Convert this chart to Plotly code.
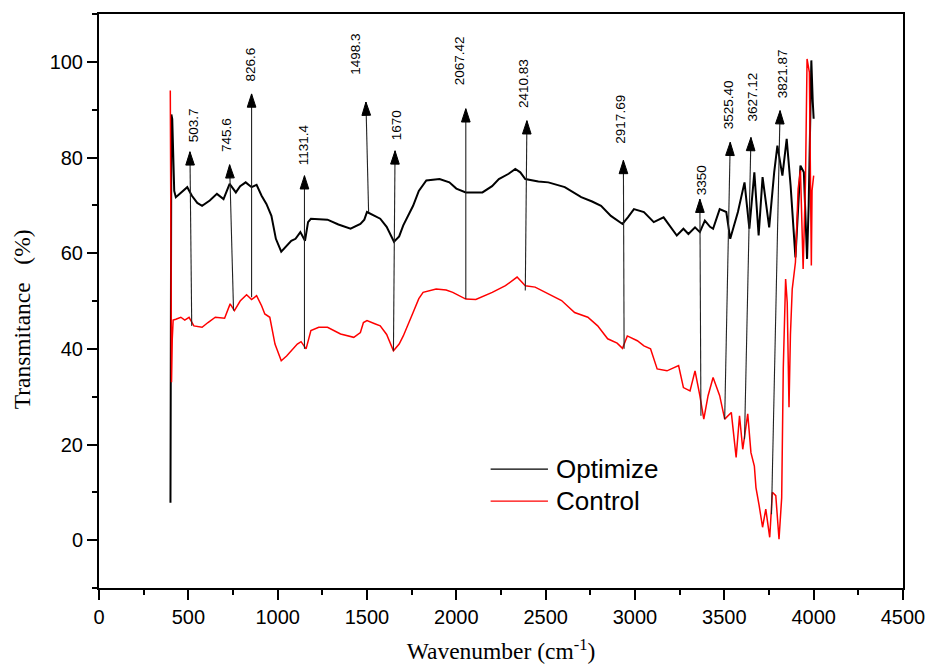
import plotly.graph_objects as go

# ---------------- data ----------------
opt_x = [400, 402, 405, 410, 415, 421, 430, 439, 460, 494, 520, 550, 577, 620, 660, 697, 731, 766, 790, 821,
         854, 882, 910, 937, 965, 990, 1020, 1050, 1076, 1100, 1127, 1153, 1170, 1186, 1230, 1279, 1340, 1408,
         1463, 1485, 1500, 1530, 1574, 1610, 1651, 1680, 1703, 1758, 1790, 1832, 1906, 1961, 2000, 2053, 2146,
         2200, 2238, 2293, 2330, 2358, 2386, 2459, 2515, 2607, 2699, 2760, 2810, 2865, 2930, 2960, 2994, 3050,
         3105, 3160, 3200, 3234, 3271, 3299, 3336, 3363, 3391, 3420, 3437, 3474, 3511, 3533, 3576, 3613, 3640,
         3668, 3692, 3714, 3751, 3779, 3797, 3825, 3849, 3871, 3898, 3913, 3926, 3945, 3963, 3972, 3987, 3995, 4000]
opt_y = [7.8, 60, 89, 88, 80, 73, 71.7, 72, 72.5, 73.8, 72, 70.5, 69.9, 71, 72.4, 71.3, 74.5, 72.7, 74, 74.8,
         73.8, 74.3, 72, 70.3, 67.8, 63, 60.3, 61.5, 62.6, 63, 64.4, 62.6, 66.5, 67.2, 67.1, 67.0, 66, 65.1,
         66.1, 67, 68.6, 68, 67.2, 65.5, 62.4, 63.5, 65.8, 69.9, 73, 75.2, 75.5, 74.8, 73.5, 72.7, 72.7,
         74, 75.5, 76.6, 77.6, 76.9, 75.5, 75.0, 74.8, 73.8, 71.7, 70.8, 69.9, 67.8, 66.1, 67.5, 69.2, 68.6,
         66.5, 67.5, 65.5, 63.7, 65.1, 64.0, 65.4, 64.4, 66.8, 65.5, 65.1, 69.2, 68.6, 63.0, 68.6, 74.8, 65.1,
         76.9, 63.7, 75.9, 65.4, 76.9, 82.5, 76.2, 83.9, 74.1, 59.1, 70, 78.3, 76.9, 58.8, 69.9, 100.3, 91.6, 88.1]

ctl_x = [399, 401, 403, 406, 410, 415, 430, 458, 480, 504, 531, 577, 610, 651, 703, 734, 758, 790, 826, 854,
         882, 910, 928, 956, 985, 1020, 1050, 1076, 1110, 1131, 1159, 1186, 1230, 1279, 1352, 1426, 1463, 1480,
         1500, 1540, 1574, 1610, 1648, 1680, 1703, 1758, 1790, 1814, 1887, 1943, 1980, 2053, 2109, 2201, 2275,
         2340, 2386, 2441, 2515, 2589, 2662, 2736, 2791, 2847, 2900, 2930, 2957, 3013, 3050, 3087, 3124, 3179,
         3244, 3271, 3308, 3336, 3363, 3385, 3409, 3437, 3474, 3502, 3539, 3557, 3566, 3585, 3603, 3631, 3649,
         3668, 3677, 3695, 3714, 3732, 3754, 3769, 3788, 3806, 3821, 3830, 3843, 3852, 3862, 3870, 3880, 3898,
         3913, 3926, 3941, 3954, 3963, 3976, 3987, 3991, 4000]
ctl_y = [94, 60, 34, 33, 42, 46, 46.2, 46.6, 46, 46.6, 44.8, 44.5, 45.5, 46.6, 46.4, 49.4, 48.0, 50, 51.3, 50.3,
         51.1, 49, 47.3, 46.6, 41, 37.5, 38.5, 39.6, 41, 41.5, 40.0, 43.8, 44.5, 44.5, 43.1, 42.4, 43.4, 45.5,
         45.9, 45.3, 44.8, 43, 39.6, 41, 42.7, 47.6, 50.5, 51.8, 52.5, 52.3, 51.8, 50.4, 50.3, 51.8, 53.2,
         55.0, 53.2, 52.9, 51.5, 50.1, 47.6, 46.6, 44.8, 42.1, 41.2, 40.1, 42.7, 41.7, 40.6, 40.0, 35.8, 35.4,
         36.5, 31.9, 31.2, 35.4, 30.2, 25.3, 30.2, 34.0, 30.2, 25.3, 26.7, 20.4, 17.3, 26.0, 19.0, 26.4, 18.3,
         15.5, 11.0, 7.2, 2.7, 6.5, 0.6, 10.0, 9.3, 0.2, 8.9, 36.1, 54.6, 49.7, 27.8, 43, 52.5, 58.1,
         73.4, 77.3, 56.7, 74.8, 100.6, 97.8, 57.4, 73.1, 76.2]

assert len(opt_x) == len(opt_y) and len(ctl_x) == len(ctl_y)

series_names = ["Optimize", "Control"]
series_colors = ["black", "#ff0000"]

# peak labels and arrows: label, head (x, y), tail (x, y), label centre (x, y)
peak_labels = ["503.7", "745.6", "826.6", "1131.4", "1498.3", "1670", "2067.42", "2410.83",
               "2917.69", "3350", "3525.40", "3627.12", "3821.87"]
head_x = [509, 731, 854, 1150, 1494, 1657, 2053, 2395, 2935, 3363, 3533, 3649, 3812]
head_y = [81.2, 78.5, 93.3, 76.2, 91.6, 81.4, 90.2, 87.7, 79.4, 71.3, 83.2, 84.2, 89.8]
tail_x = [519, 753, 854, 1150, 1509, 1648, 2053, 2386, 2939, 3369, 3502, 3613, 3764]
tail_y = [44.8, 48.0, 50.8, 40.0, 68.6, 39.6, 50.4, 52.2, 40.0, 26.0, 25.3, 21.1, 5.4]
label_x = [531, 714, 847, 1146, 1439, 1670, 2015, 2380, 2921, 3376, 3520, 3659, 3825]
label_y = [86.7, 84.6, 99.5, 82.7, 101.5, 86.8, 100.1, 95.4, 88.1, 75.3, 91.1, 92.7, 97.5]

x_ticks = [0, 500, 1000, 1500, 2000, 2500, 3000, 3500, 4000, 4500]
y_ticks = [0, 20, 40, 60, 80, 100]

# ---------------- figure ----------------
fig = go.Figure()
fig.add_trace(go.Scatter(x=opt_x, y=opt_y, mode="lines", name=series_names[0], showlegend=False,
                         line=dict(color=series_colors[0], width=2)))
fig.add_trace(go.Scatter(x=ctl_x, y=ctl_y, mode="lines", name=series_names[1], showlegend=False,
                         line=dict(color=series_colors[1], width=1.5)))

label_font = dict(family="Liberation Sans, Arial, sans-serif", size=13.5, color="black")
for i, lab in enumerate(peak_labels):
    # arrow shaft
    fig.add_trace(go.Scatter(x=[tail_x[i], head_x[i]], y=[tail_y[i], head_y[i]],
                             mode="lines", showlegend=False, hoverinfo="skip",
                             line=dict(color="#222222", width=1.1)))
    # arrow head (marker oriented along the shaft)
    fig.add_trace(go.Scatter(x=[tail_x[i], head_x[i]], y=[tail_y[i], head_y[i]],
                             mode="markers", showlegend=False, hoverinfo="skip", opacity=1,
                             marker=dict(symbol="arrow", size=[0, 14], angleref="previous",
                                         color="#000000", opacity=1,
                                         line=dict(width=1, color="#000000"))))
    fig.add_annotation(x=label_x[i], y=label_y[i], xref="x", yref="y",
                       text=lab, showarrow=False, textangle=-90, font=label_font)

axis_font = dict(family="Liberation Sans, Arial, sans-serif", size=20, color="black")
title_font = dict(family="Liberation Serif, Times New Roman, serif", size=23.5, color="black")
legend_font = dict(family="Liberation Sans, Arial, sans-serif", size=26, color="black")

fig.update_xaxes(range=[0, 4500], tickvals=x_ticks, ticks="outside", ticklen=10, tickwidth=2,
                 tickcolor="black", showline=True, linewidth=2, linecolor="black", mirror=True,
                 showgrid=False, zeroline=False, tickfont=axis_font,
                 minor=dict(dtick=250, ticks="outside", ticklen=5, tickwidth=2, tickcolor="black", showgrid=False),
                 title=dict(text="Wavenumber (cm<sup>-1</sup>)", font=title_font, standoff=16))
fig.update_yaxes(range=[-10, 110], tickvals=y_ticks, ticks="outside", ticklen=10, tickwidth=2,
                 tickcolor="black", showline=True, linewidth=2, linecolor="black", mirror=True,
                 showgrid=False, zeroline=False, tickfont=axis_font,
                 minor=dict(dtick=10, ticks="outside", ticklen=5, tickwidth=2, tickcolor="black", showgrid=False))

# y-axis title (placed slightly below centre, as in the reference)
fig.add_annotation(text="Transmitance&nbsp;&nbsp; (%)", xref="paper", yref="paper",
                   x=0, y=0.468, xshift=-77, textangle=-90, showarrow=False,
                   xanchor="center", yanchor="middle", font=title_font)

# legend drawn in paper coordinates (compact spacing as in the reference)
legend_rows_y = [0.2070, 0.1513]
for name, col, ly in zip(series_names, series_colors, legend_rows_y):
    fig.add_shape(type="line", xref="paper", yref="paper", x0=0.4871, x1=0.5584, y0=ly, y1=ly,
                  line=dict(color=col, width=1.3))
    fig.add_annotation(text=name, xref="paper", yref="paper", x=0.5658, y=ly,
                       xanchor="left", yanchor="middle", showarrow=False, font=legend_font)

fig.update_layout(
    width=937, height=672,
    margin=dict(l=99, r=25, t=14, b=83),
    paper_bgcolor="white", plot_bgcolor="white",
    showlegend=False,
)

fig.write_html("out.html")
